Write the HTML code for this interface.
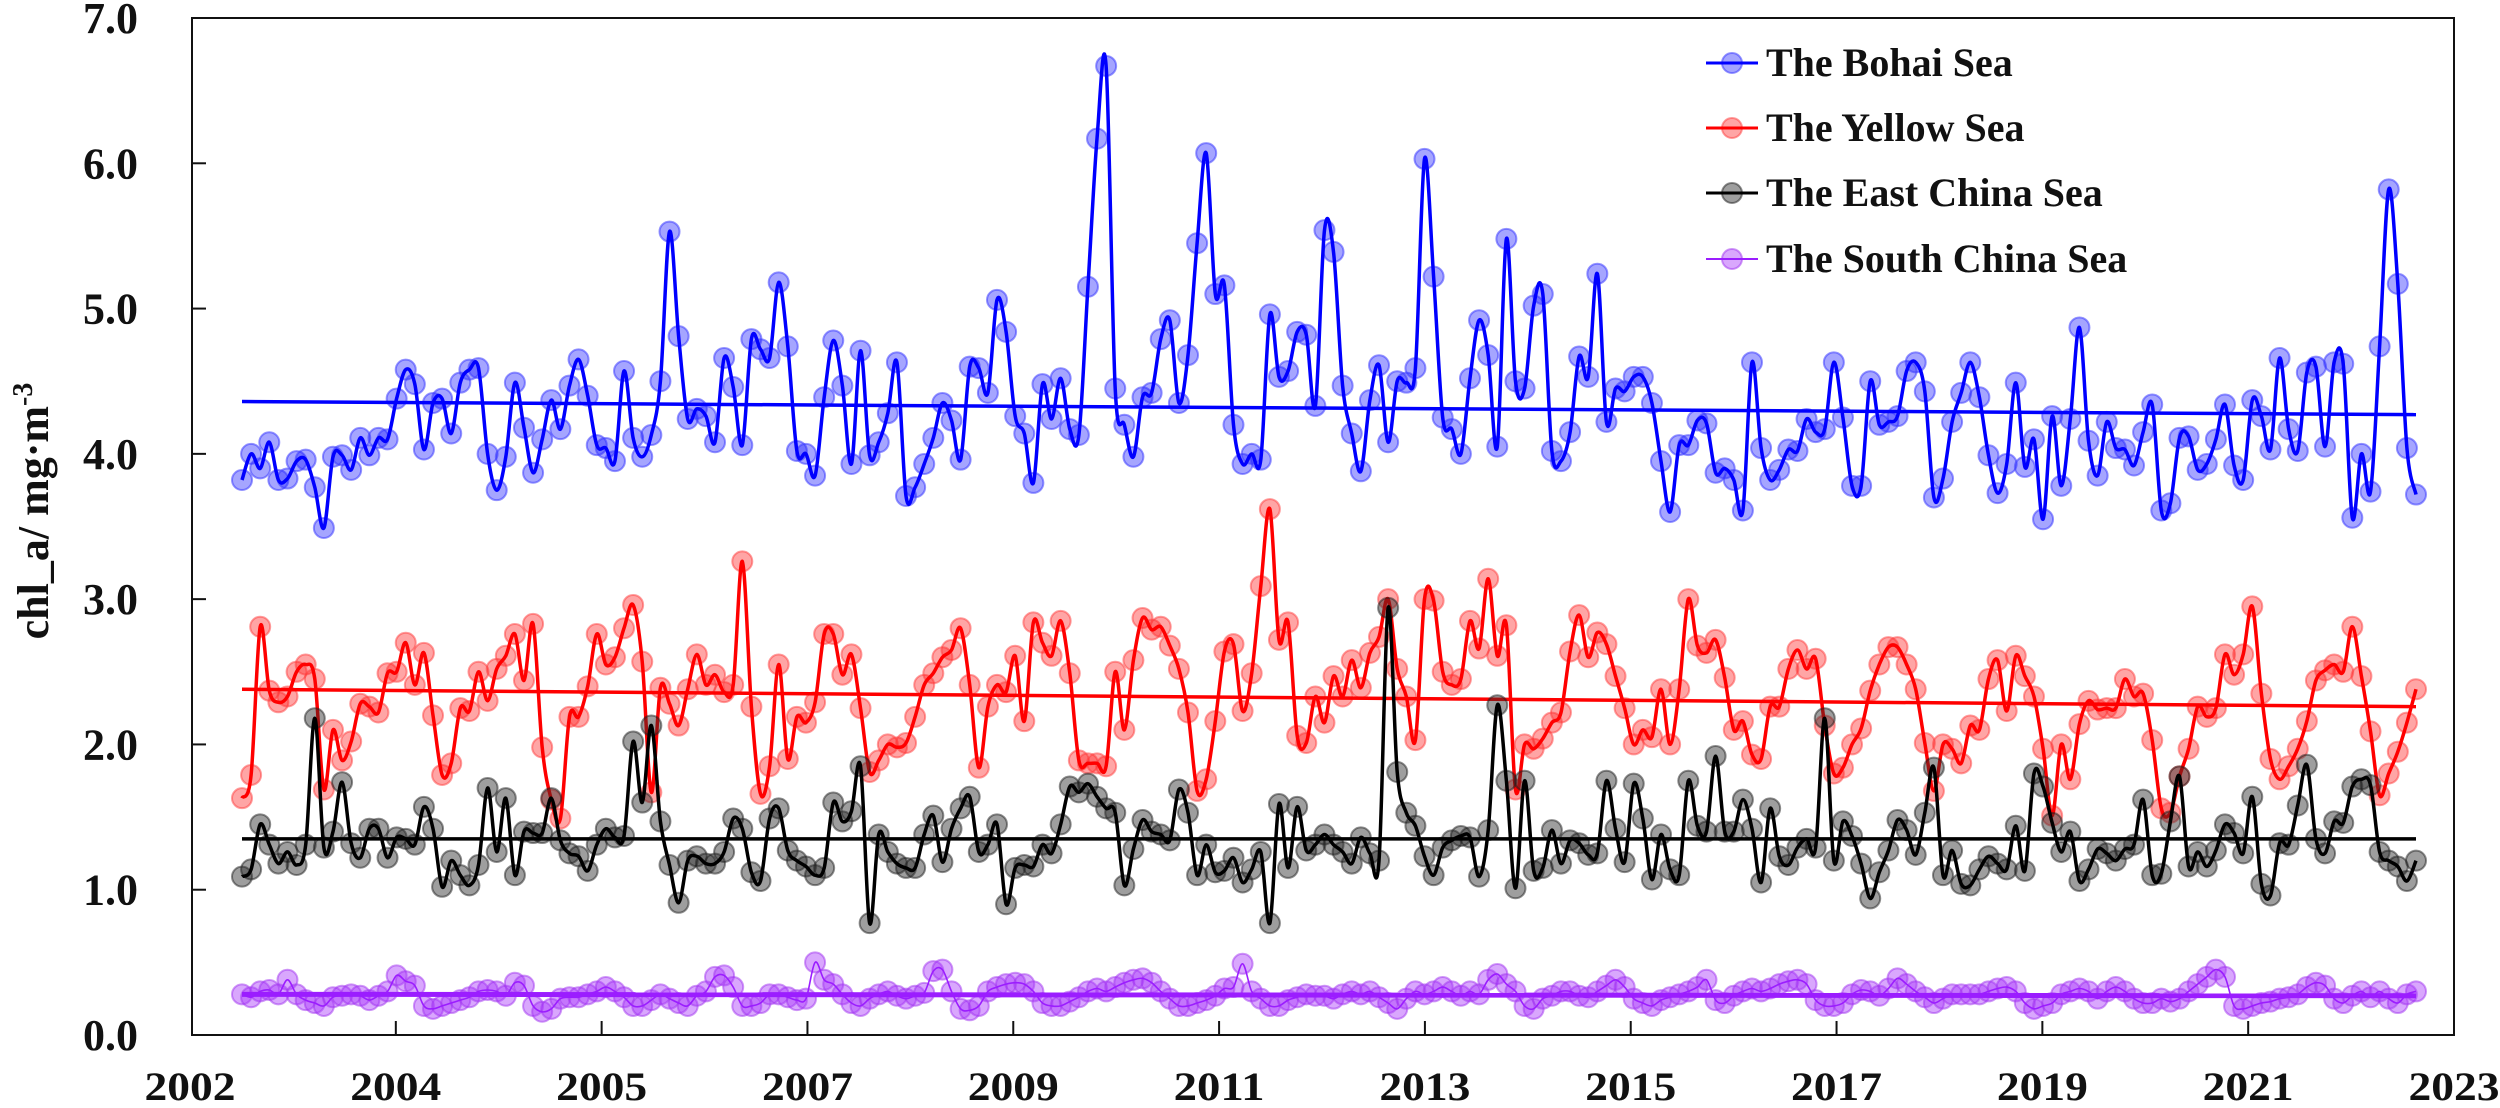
<!DOCTYPE html>
<html><head><meta charset="utf-8"><style>
html,body{margin:0;padding:0;background:#fff;}
svg{display:block;}
text{font-family:"Liberation Serif","Times New Roman",serif;font-weight:bold;fill:#111;}
</style></head><body>
<svg id="chart" width="2500" height="1108" viewBox="0 0 2500 1108" xmlns="http://www.w3.org/2000/svg">
<rect x="192" y="18" width="2262" height="1017" fill="none" stroke="#111" stroke-width="2"/>
<g id="yaxis"></g>
<g id="xaxis"></g>
<text transform="translate(48,511) rotate(-90)" text-anchor="middle" font-size="44">chl_a/ mg·m<tspan font-size="28" dy="-16">-3</tspan></text>
<g id="series"></g>
<g id="legend"></g>
</svg>
<script>
const yTicks = [0,1,2,3,4,5,6,7];
const xTickLabels = ["2002","2004","2005","2007","2009","2011","2013","2015","2017","2019","2021","2023"];
const seriesNames = ["The Bohai Sea","The Yellow Sea","The East China Sea","The South China Sea"];
const bohai = [3.82,4.0,3.9,4.08,3.82,3.83,3.95,3.96,3.77,3.49,3.98,3.99,3.89,4.11,3.99,4.11,4.10,4.38,4.58,4.48,4.03,4.35,4.38,4.14,4.49,4.58,4.59,4.0,3.75,3.98,4.49,4.18,3.87,4.10,4.37,4.17,4.47,4.65,4.40,4.06,4.04,
3.95,4.57,4.11,3.98,4.13,4.5,5.53,4.81,4.24,4.31,4.26,4.08,4.66,4.46,4.06,4.79,4.72,4.66,5.18,4.74,4.02,4.0,3.85,4.39,4.78,4.47,3.93,4.71,3.99,4.08,4.28,4.63,3.71,3.77,3.93,4.11,4.35,4.23,3.96,4.6,4.59,
4.42,5.06,4.84,4.26,4.14,3.8,4.48,4.24,4.52,4.17,4.13,5.15,6.17,6.67,4.45,4.2,3.98,4.39,4.42,4.79,4.92,4.35,4.68,5.45,6.07,5.1,5.16,4.2,3.93,4.0,3.96,4.96,4.53,4.57,4.84,4.82,4.33,5.54,5.39,4.47,4.14,
3.88,4.37,4.61,4.08,4.5,4.49,4.59,6.03,5.22,4.25,4.17,4.0,4.52,4.92,4.68,4.05,5.48,4.5,4.45,5.02,5.1,4.02,3.95,4.15,4.67,4.53,5.24,4.22,4.45,4.43,4.53,4.53,4.35,3.95,3.6,4.06,4.06,4.23,4.21,3.87,
3.9,3.82,3.61,4.63,4.04,3.82,3.89,4.03,4.02,4.24,4.15,4.17,4.63,4.25,3.78,3.78,4.5,4.2,4.22,4.26,4.57,4.63,4.43,3.7,3.83,4.22,4.42,4.63,4.39,3.99,3.73,3.93,4.49,3.91,4.1,3.55,4.26,3.78,4.24,4.87,4.09,
3.85,4.22,4.04,4.03,3.92,4.15,4.34,3.61,3.66,4.11,4.12,3.89,3.93,4.1,4.34,3.92,3.82,4.37,4.26,4.03,4.66,4.17,4.02,4.56,4.6,4.05,4.63,4.62,3.56,4.0,3.74,4.74,5.82,5.17,4.04,3.72];
const yellow = [1.63,1.79,2.81,2.37,2.29,2.33,2.5,2.55,2.45,1.69,2.10,1.89,2.02,2.28,2.26,2.22,2.49,2.5,2.7,2.41,2.63,2.2,1.79,1.87,2.25,2.23,2.5,2.3,2.52,2.61,2.76,2.44,2.83,1.98,1.62,1.49,2.19,2.19,2.4,2.76,2.55,
2.6,2.8,2.96,2.57,1.67,2.39,2.28,2.13,2.38,2.62,2.41,2.48,2.36,2.41,3.26,2.26,1.66,1.85,2.55,1.9,2.19,2.15,2.29,2.76,2.76,2.48,2.62,2.25,1.81,1.89,2.0,1.98,2.01,2.19,2.41,2.49,2.6,2.65,2.8,2.41,1.84,
2.26,2.41,2.36,2.61,2.16,2.84,2.7,2.61,2.85,2.49,1.89,1.87,1.87,1.85,2.5,2.1,2.58,2.87,2.79,2.81,2.68,2.52,2.22,1.68,1.76,2.16,2.64,2.69,2.23,2.49,3.09,3.62,2.72,2.84,2.06,2.01,2.33,2.15,2.47,2.33,2.58,
2.39,2.63,2.74,3.0,2.52,2.33,2.03,3.0,2.99,2.5,2.41,2.45,2.85,2.66,3.14,2.61,2.82,1.69,2.0,1.97,2.04,2.15,2.22,2.64,2.89,2.6,2.77,2.69,2.47,2.25,2.0,2.1,2.05,2.38,2.0,2.38,3.0,2.68,2.63,2.72,
2.46,2.1,2.16,1.93,1.9,2.26,2.26,2.52,2.65,2.52,2.59,2.13,1.8,1.84,2.0,2.11,2.37,2.55,2.67,2.67,2.55,2.38,2.01,1.68,2.0,1.97,1.87,2.13,2.1,2.45,2.58,2.23,2.61,2.47,2.33,1.97,1.51,2.0,1.76,2.14,2.3,
2.24,2.25,2.25,2.45,2.33,2.35,2.03,1.56,1.53,1.78,1.97,2.26,2.19,2.25,2.62,2.48,2.62,2.95,2.35,1.9,1.76,1.85,1.97,2.16,2.44,2.51,2.55,2.5,2.81,2.47,2.09,1.65,1.8,1.95,2.15,2.38];
const eastChina = [1.09,1.14,1.45,1.31,1.18,1.26,1.17,1.31,2.18,1.29,1.4,1.74,1.32,1.22,1.42,1.42,1.22,1.36,1.35,1.31,1.57,1.42,1.02,1.2,1.1,1.03,1.17,1.7,1.26,1.63,1.1,1.4,1.39,1.39,1.63,1.34,1.25,1.23,1.13,1.31,1.42,
1.36,1.37,2.02,1.6,2.13,1.47,1.17,0.91,1.2,1.23,1.18,1.18,1.26,1.49,1.42,1.12,1.06,1.49,1.56,1.27,1.2,1.16,1.1,1.15,1.6,1.47,1.54,1.85,0.77,1.38,1.26,1.18,1.15,1.15,1.38,1.51,1.19,1.42,1.56,1.64,1.26,
1.31,1.45,0.9,1.15,1.17,1.16,1.31,1.25,1.45,1.71,1.67,1.73,1.64,1.56,1.53,1.03,1.28,1.48,1.4,1.38,1.34,1.69,1.53,1.1,1.31,1.12,1.13,1.22,1.05,1.14,1.26,0.77,1.59,1.15,1.57,1.27,1.31,1.38,1.31,1.26,1.18,
1.36,1.25,1.2,2.94,1.81,1.53,1.44,1.23,1.1,1.29,1.34,1.37,1.36,1.09,1.41,2.27,1.75,1.01,1.75,1.13,1.15,1.41,1.18,1.34,1.32,1.24,1.25,1.75,1.42,1.19,1.73,1.49,1.07,1.38,1.14,1.1,1.75,1.44,1.4,1.92,
1.4,1.4,1.62,1.42,1.05,1.56,1.23,1.17,1.29,1.35,1.29,2.18,1.2,1.47,1.37,1.18,0.94,1.12,1.27,1.48,1.41,1.24,1.53,1.84,1.1,1.27,1.04,1.03,1.14,1.23,1.18,1.14,1.44,1.13,1.8,1.71,1.46,1.26,1.4,1.06,1.14,
1.28,1.25,1.2,1.28,1.31,1.62,1.1,1.11,1.47,1.78,1.16,1.26,1.16,1.27,1.45,1.39,1.25,1.64,1.04,0.96,1.32,1.31,1.58,1.86,1.35,1.25,1.47,1.46,1.71,1.76,1.72,1.26,1.2,1.16,1.06,1.2];
const southChina = [0.28,0.26,0.30,0.31,0.28,0.38,0.28,0.24,0.22,0.20,0.26,0.27,0.28,0.27,0.24,0.27,0.30,0.41,0.37,0.34,0.20,0.18,0.20,0.22,0.24,0.26,0.30,0.31,0.30,0.27,0.36,0.34,0.20,0.16,0.18,0.25,0.26,0.26,0.28,0.30,0.33,
0.30,0.26,0.20,0.20,0.24,0.28,0.25,0.22,0.20,0.27,0.30,0.40,0.41,0.33,0.20,0.20,0.22,0.28,0.28,0.26,0.24,0.25,0.50,0.38,0.35,0.28,0.22,0.20,0.25,0.28,0.30,0.27,0.25,0.27,0.29,0.44,0.45,0.30,0.18,0.17,0.20,
0.3,0.33,0.35,0.36,0.35,0.3,0.22,0.2,0.2,0.23,0.26,0.3,0.32,0.3,0.33,0.36,0.38,0.39,0.36,0.3,0.25,0.2,0.2,0.22,0.24,0.27,0.32,0.33,0.49,0.3,0.25,0.2,0.2,0.24,0.26,0.28,0.27,0.27,0.25,0.28,0.3,
0.28,0.3,0.26,0.22,0.18,0.25,0.3,0.28,0.3,0.33,0.3,0.27,0.3,0.28,0.38,0.42,0.35,0.3,0.2,0.18,0.25,0.27,0.3,0.3,0.27,0.26,0.3,0.34,0.38,0.33,0.25,0.22,0.2,0.24,0.26,0.28,0.3,0.33,0.38,0.24,
0.22,0.27,0.3,0.32,0.3,0.32,0.35,0.37,0.38,0.35,0.24,0.2,0.2,0.22,0.28,0.31,0.3,0.27,0.32,0.39,0.35,0.3,0.26,0.22,0.25,0.28,0.28,0.28,0.28,0.3,0.32,0.33,0.3,0.22,0.18,0.2,0.22,0.28,0.3,0.32,0.3,
0.25,0.3,0.33,0.3,0.25,0.22,0.22,0.25,0.23,0.25,0.3,0.35,0.4,0.45,0.4,0.2,0.18,0.2,0.22,0.23,0.25,0.26,0.28,0.33,0.36,0.34,0.25,0.22,0.27,0.3,0.26,0.3,0.25,0.22,0.28,0.3];
const trendStart = [4.36,2.38,1.35,0.28];
const trendEnd = [4.27,2.26,1.35,0.27];

const NS="http://www.w3.org/2000/svg";
const X0=242, X1=2416, PL=192, PR=2454, PB=1035, PT=18;
const yScale=v=>PB-(v/7)*(PB-PT);
const xScale=(i,n)=>X0+i*(X1-X0)/(n-1);
const xTickPos=i=>190+i*(2454-190)/11;
function mk(tag,attrs,parent){const e=document.createElementNS(NS,tag);for(const k in attrs)e.setAttribute(k,attrs[k]);parent.appendChild(e);return e;}

const ya=document.getElementById('yaxis');
yTicks.forEach(v=>{
  const y=yScale(v);
  if(v>0&&v<7){const t=mk('line',{x1:PL,x2:PL+14,y1:y,y2:y,stroke:'#111','stroke-width':2},ya);
  
  }
  const tx=mk('text',{x:138,y:y+15,'text-anchor':'end','font-size':44},ya);
  
  
  tx.textContent=v.toFixed(1);
});
const xa=document.getElementById('xaxis');
xTickLabels.forEach((lab,i)=>{
  const x=xTickPos(i);
  if(i>0&&i<11){const t=mk('line',{x1:x,x2:x,y1:PB,y2:PB-14,stroke:'#111','stroke-width':2},xa);
  
  }
  const tx=mk('text',{x:x,y:1100,'text-anchor':'middle','font-size':40,textLength:91,lengthAdjust:'spacingAndGlyphs'},xa);
  
  
  tx.textContent=lab;
});

const all=[bohai,yellow,eastChina,southChina];
const lineCol=['#0000ff','#ff0000','#000000','#9b1dff'];
const fillCol=['rgba(40,40,255,0.42)','rgba(255,40,40,0.42)','rgba(40,40,40,0.45)','rgba(170,60,250,0.45)'];
const strokeCol=['rgba(60,60,255,0.55)','rgba(255,60,60,0.5)','rgba(30,30,30,0.5)','rgba(160,50,240,0.5)'];
const lw=[3.5,3.5,3.5,1.6];
const tw=[3.5,3.5,3.5,5];
const keys=['bohai','yellow','east-china','south-china'];
function smooth(pts){
  let d=`M${pts[0][0]},${pts[0][1]}`;
  for(let i=0;i<pts.length-1;i++){
    const p0=pts[Math.max(i-1,0)],p1=pts[i],p2=pts[i+1],p3=pts[Math.min(i+2,pts.length-1)];
    const c1=[p1[0]+(p2[0]-p0[0])/6,p1[1]+(p2[1]-p0[1])/6];
    const c2=[p2[0]-(p3[0]-p1[0])/6,p2[1]-(p3[1]-p1[1])/6];
    d+=`C${c1[0].toFixed(1)},${c1[1].toFixed(1)} ${c2[0].toFixed(1)},${c2[1].toFixed(1)} ${p2[0].toFixed(1)},${p2[1].toFixed(1)}`;
  }
  return d;
}
const sg=document.getElementById('series');
all.forEach((data,s)=>{
  const g=mk('g',{},sg);
  
  
  const n=data.length;
  const pts=data.map((v,i)=>[xScale(i,n),yScale(v)]);
  pts.forEach(p=>{
    const c=mk('circle',{cx:p[0],cy:p[1],r:10,fill:fillCol[s],stroke:strokeCol[s],'stroke-width':2},g);
    
    
  });
  const l=mk('path',{d:smooth(pts),fill:'none',stroke:lineCol[s],'stroke-width':lw[s]},g);
  
  
  const t=mk('line',{x1:xScale(0,n),x2:xScale(n-1,n),y1:yScale(trendStart[s]),y2:yScale(trendEnd[s]),stroke:lineCol[s],'stroke-width':tw[s]},g);
  
  
});

const lg=document.getElementById('legend');
const rowsY=[63,128,193,259];
seriesNames.forEach((nm,s)=>{
  const g=mk('g',{},lg);
  
  
  const y=rowsY[s];
  const c=mk('circle',{cx:1732,cy:y,r:10,fill:fillCol[s],stroke:strokeCol[s],'stroke-width':2},g);
  
  
  const l=mk('line',{x1:1706,x2:1758,y1:y,y2:y,stroke:lineCol[s],'stroke-width':s===3?2:3},g);
  
  
  const t=mk('text',{x:1766,y:y+13,'font-size':40},g);
  
  
  t.textContent=nm;
});
</script>
</body></html>
